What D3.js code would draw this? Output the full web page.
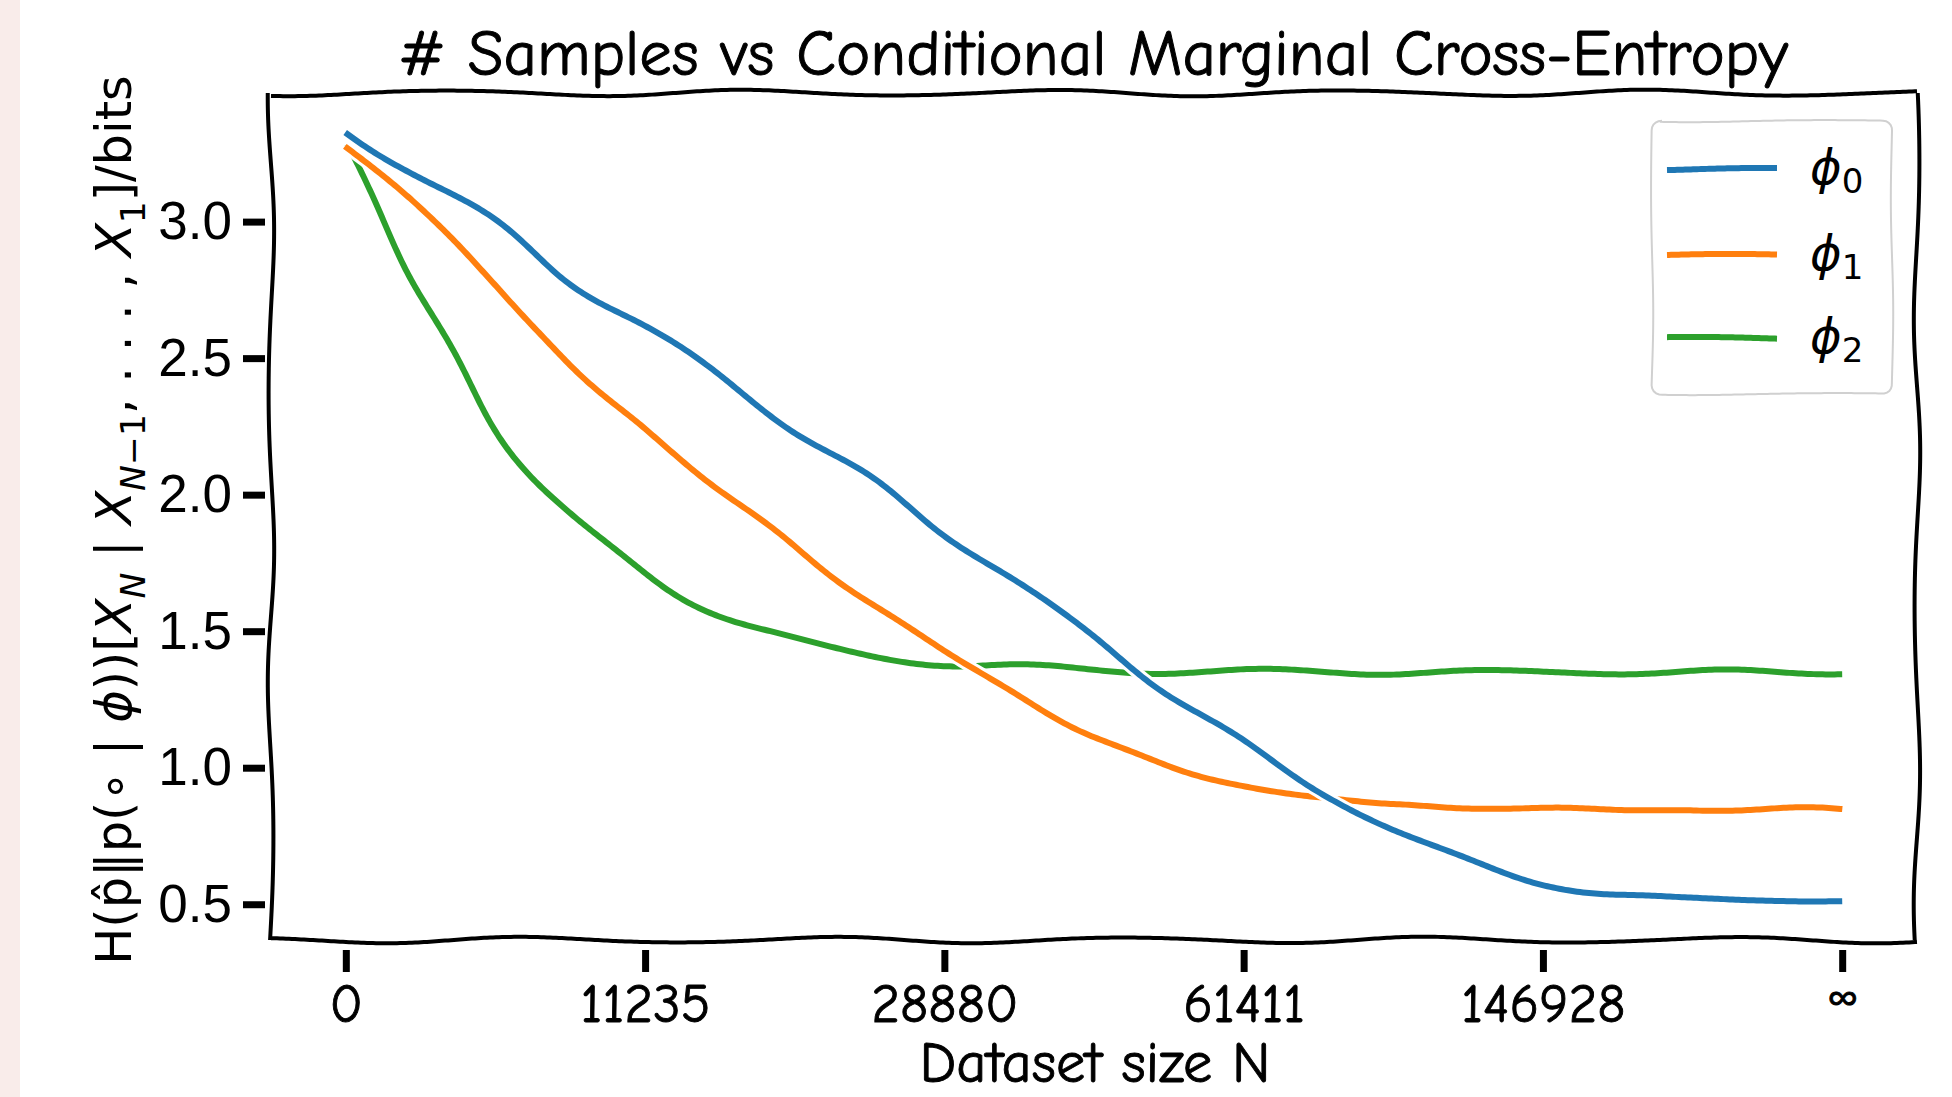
<!DOCTYPE html>
<html>
<head>
<meta charset="utf-8">
<script src="https://cdn.jsdelivr.net/npm/d3@7"></script>
<style>
  html, body { margin: 0; padding: 0; background: #fff; }
  svg { display: block; }
</style>
</head>
<body>
<svg id="chart" width="1952" height="1097"></svg>
<script>
// tick labels and data
var xTickLabels = ['0', '11235', '28880', '61411', '146928', '\u221e'];
var xTicks = [0, 1, 2, 3, 4, 5];
var yTicks = [0.5, 1.0, 1.5, 2.0, 2.5, 3.0];

// positions along the x axis (tick index units)
var positions = [0, 0.25, 0.5, 0.75, 1, 1.25, 1.5, 1.75, 2, 2.25, 2.5,
                 2.75, 3, 3.25, 3.5, 3.75, 4, 4.25, 4.5, 4.75, 5];

var phi0 = [3.33, 3.16, 3.00, 2.78, 2.61, 2.44, 2.23, 2.06, 1.86, 1.67, 1.48,
            1.27, 1.09, 0.92, 0.77, 0.66, 0.58, 0.53, 0.52, 0.52, 0.51];
var phi1 = [3.28, 3.04, 2.78, 2.46, 2.25, 2.01, 1.81, 1.61, 1.42, 1.27, 1.11,
            1.00, 0.94, 0.89, 0.86, 0.86, 0.85, 0.84, 0.85, 0.85, 0.84];
var phi2 = [3.28, 2.74, 2.24, 1.93, 1.71, 1.56, 1.47, 1.41, 1.38, 1.37, 1.36,
            1.35, 1.355, 1.35, 1.35, 1.35, 1.35, 1.35, 1.35, 1.35, 1.35];

var seriesNames = ['0', '1', '2'];
var seriesValues = [phi0, phi1, phi2];
var colors = ['#1f77b4', '#ff7f0e', '#2ca02c'];

var W = 1952, H = 1097;
var plotLeft = 271, plotRight = 1917, plotTop = 93, plotBottom = 940;
var comic = '"Humor Sans", "Comic Neue", "Comic Sans MS", "Open Sans", sans-serif';

var svg = d3.select('#chart');

var x = d3.scaleLinear().domain([-0.25, 5.25]).range([plotLeft, plotRight]);
var y = d3.scaleLinear().domain([0.369, 3.471]).range([plotBottom, plotTop]);

// page background + the pink strip on the left edge
svg.append('rect').attr('width', W).attr('height', H).attr('fill', '#fff');
svg.append('rect').attr('width', 20).attr('height', H).attr('fill', '#f9ecea');

/***** Helper Functions *****/

// walk a path string and return points every `step` px
function samplePath(d, step) {
  var p = svg.append('path').attr('d', d).attr('fill', 'none');
  var node = p.node();
  var len = node.getTotalLength();
  var pts = [];
  for (var s = 0; s < len; s += step) {
    var q = node.getPointAtLength(s);
    pts.push([q.x, q.y]);
  }
  var e = node.getPointAtLength(len);
  pts.push([e.x, e.y]);
  p.remove();
  return pts;
}

// hand drawn look: push each point along the normal by a slow wave
function wobble(pts, amp, period, phase) {
  var out = [];
  var s = 0;
  for (var i = 0; i < pts.length; i++) {
    if (i > 0) s += Math.hypot(pts[i][0] - pts[i - 1][0], pts[i][1] - pts[i - 1][1]);
    var a = pts[Math.max(i - 1, 0)];
    var b = pts[Math.min(i + 1, pts.length - 1)];
    var dx = b[0] - a[0], dy = b[1] - a[1];
    var len = Math.hypot(dx, dy) || 1;
    var nx = -dy / len, ny = dx / len;
    var off = amp * (0.9 * Math.sin(2 * Math.PI * s / period + phase) +
                     0.15 * Math.sin(2 * Math.PI * s / (period * 0.61) + phase * 1.7));
    out.push([pts[i][0] + nx * off, pts[i][1] + ny * off]);
  }
  return out;
}

function fitWidth(sel, target) {
  var w = sel.node().getComputedTextLength();
  var fs = parseFloat(sel.attr('font-size'));
  sel.attr('font-size', fs * target / w);
}

var straight = d3.line();

// y axis ticks
var yAxis = d3.axisLeft(y)
  .tickValues(yTicks)
  .tickSize(22)
  .tickPadding(11)
  .tickFormat(d3.format('.1f'));

var gy = svg.append('g')
  .attr('transform', 'translate(265,0)')
  .call(yAxis);
gy.select('.domain').remove();
gy.selectAll('.tick line').attr('stroke', '#000').attr('stroke-width', 7);
gy.selectAll('.tick text')
  .attr('fill', '#000')
  .style('font-family', '"Liberation Sans", Arial, sans-serif')
  .style('font-size', '53px');

// x axis ticks
var xAxis = d3.axisBottom(x)
  .tickValues(xTicks)
  .tickSize(22)
  .tickPadding(11)
  .tickFormat(function(d) { return xTickLabels[d]; });

var gx = svg.append('g')
  .attr('transform', 'translate(0,950)')
  .call(xAxis);
gx.select('.domain').remove();
gx.selectAll('.tick line').attr('stroke', '#000').attr('stroke-width', 7);
gx.selectAll('.tick text')
  .attr('fill', '#000')
  .attr('stroke', '#000')
  .attr('stroke-width', 0.9)
  .style('font-family', comic)
  .style('font-size', function(d) { return d === 5 ? '44px' : '55px'; });

// data lines, last series first so phi0 ends up on top
var curve = d3.line()
  .x(function(d, i) { return x(positions[i]); })
  .y(function(d) { return y(d); })
  .curve(d3.curveMonotoneX);

var gLines = svg.append('g');
for (var k = seriesValues.length - 1; k >= 0; k--) {
  var pts = wobble(samplePath(curve(seriesValues[k]), 3), 2.6, 230, k * 1.9 + 0.4);
  gLines.append('path')
    .attr('d', straight(pts))
    .attr('fill', 'none')
    .attr('stroke', '#fff')
    .attr('stroke-width', 12);
  gLines.append('path')
    .attr('d', straight(pts))
    .attr('fill', 'none')
    .attr('stroke', colors[k])
    .attr('stroke-width', 6);
}

// spines, each drawn as its own wobbly stroke
var spines = [
  [[plotLeft, plotTop], [plotRight, plotTop]],
  [[plotRight, plotTop], [plotRight, plotBottom]],
  [[plotLeft, plotBottom], [plotRight, plotBottom]],
  [[plotLeft, plotTop], [plotLeft, plotBottom]]
];
spines.forEach(function(seg, i) {
  var pts = wobble(samplePath(straight(seg), 3), 3.2, 300, i * 2.3 + 1);
  svg.append('path')
    .attr('d', straight(pts))
    .attr('fill', 'none')
    .attr('stroke', '#000')
    .attr('stroke-width', 4);
});

// legend
var lgX0 = 1652, lgY0 = 121, lgX1 = 1892, lgY1 = 394, r = 9;
var box = d3.path();
box.moveTo(lgX0 + r, lgY0);
box.lineTo(lgX1 - r, lgY0);
box.arcTo(lgX1, lgY0, lgX1, lgY0 + r, r);
box.lineTo(lgX1, lgY1 - r);
box.arcTo(lgX1, lgY1, lgX1 - r, lgY1, r);
box.lineTo(lgX0 + r, lgY1);
box.arcTo(lgX0, lgY1, lgX0, lgY1 - r, r);
box.lineTo(lgX0, lgY0 + r);
box.arcTo(lgX0, lgY0, lgX0 + r, lgY0, r);
box.closePath();

var boxPts = wobble(samplePath(box.toString(), 3), 1.2, 260, 0.7);
svg.append('path')
  .attr('d', straight(boxPts) + 'Z')
  .attr('fill', '#fff')
  .attr('fill-opacity', 0.9)
  .attr('stroke', '#d0d0d0')
  .attr('stroke-width', 2);

var legendRowY = [169, 255, 338];
seriesNames.forEach(function(name, i) {
  var ly = legendRowY[i];
  var pts = wobble(samplePath(straight([[1667, ly], [1777, ly]]), 2), 1.4, 230, i + 2);
  svg.append('path')
    .attr('d', straight(pts))
    .attr('fill', 'none')
    .attr('stroke', colors[i])
    .attr('stroke-width', 6);

  var t = svg.append('text')
    .attr('x', 1810)
    .attr('y', ly + 15)
    .style('font-family', '"DejaVu Sans", sans-serif')
    .style('font-size', '48px')
    .attr('fill', '#000');
  t.append('tspan').style('font-style', 'italic').text('\u03d5');
  t.append('tspan').attr('dy', 9).style('font-size', '34px').text(name);
});

// title
var title = svg.append('text')
  .attr('x', 1093)
  .attr('y', 75)
  .attr('text-anchor', 'middle')
  .attr('fill', '#000')
  .attr('stroke', '#000')
  .attr('stroke-width', 1)
  .attr('font-size', 60)
  .style('font-family', comic)
  .text('# Samples vs Conditional Marginal Cross-Entropy');
fitWidth(title, 1390);

// x label
var xLabel = svg.append('text')
  .attr('x', 1095)
  .attr('y', 1082)
  .attr('text-anchor', 'middle')
  .attr('fill', '#000')
  .attr('stroke', '#000')
  .attr('stroke-width', 0.9)
  .attr('font-size', 52)
  .style('font-family', comic)
  .text('Dataset size N');
fitWidth(xLabel, 351);

// y label, mathtext style with subscripts
var F = 50;
var gyl = svg.append('g').attr('transform', 'translate(131,520) rotate(-90)');
var yl = gyl.append('text')
  .attr('text-anchor', 'middle')
  .attr('fill', '#000')
  .style('font-family', '"DejaVu Sans", sans-serif')
  .style('font-size', F + 'px');

var ylParts = [
  {t: 'H(p\u0302\u2016p(\u2218 | '},
  {t: '\u03d5', it: true},
  {t: '))['},
  {t: 'X', it: true},
  {t: 'N', it: true, sub: true},
  {t: ' | ', after: true},
  {t: 'X', it: true},
  {t: 'N', it: true, sub: true},
  {t: '\u22121', sub: true, cont: true},
  {t: ', . . . , ', after: true},
  {t: 'X', it: true},
  {t: '1', sub: true},
  {t: ']/bits', after: true}
];
var subShift = 0.28 * F;
ylParts.forEach(function(p) {
  var ts = yl.append('tspan').text(p.t);
  if (p.it) ts.style('font-style', 'italic');
  if (p.sub) {
    ts.style('font-size', (0.7 * F) + 'px');
    if (!p.cont) ts.attr('dy', subShift);
  }
  if (p.after) ts.attr('dy', -subShift);
});
var ylw = yl.node().getComputedTextLength();
yl.attr('transform', 'scale(' + (890 / ylw) + ')');
</script>
</body>
</html>
